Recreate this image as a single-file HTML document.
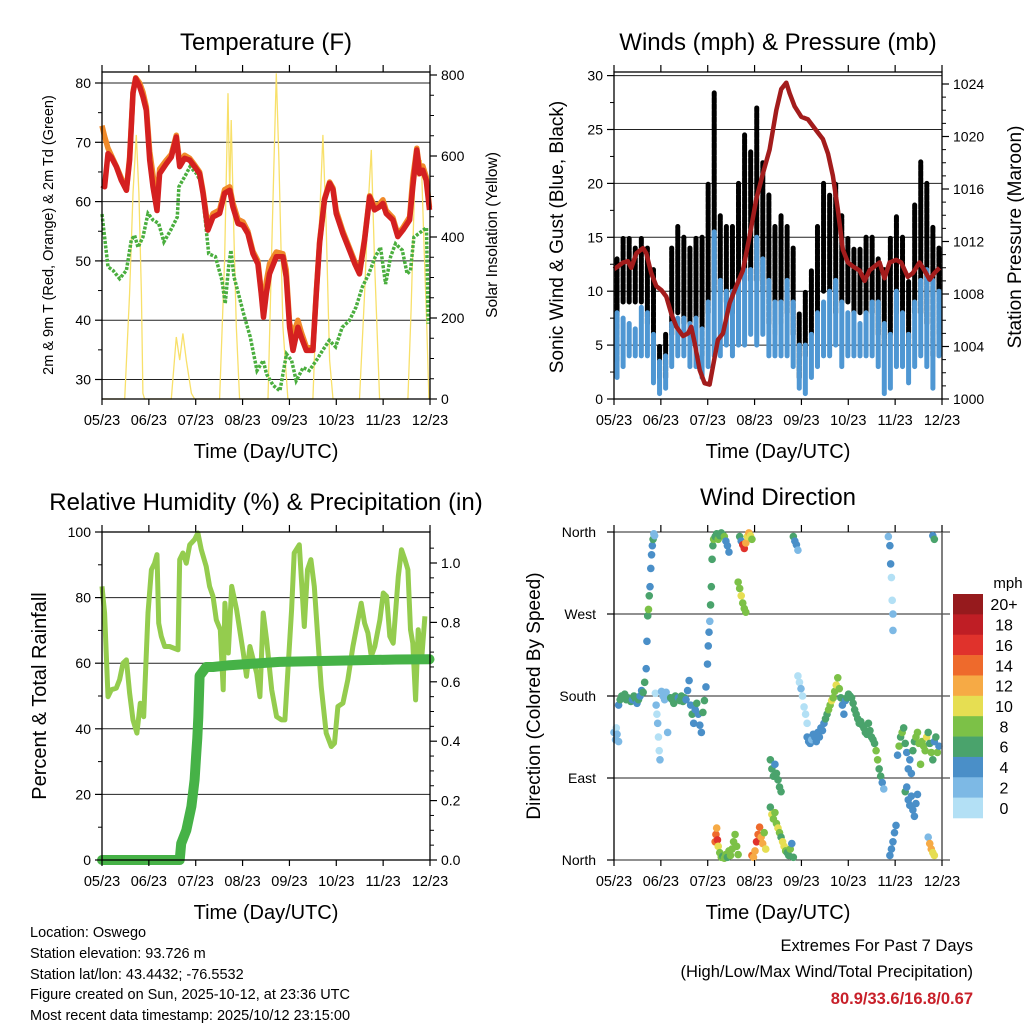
<!DOCTYPE html>
<html><head><meta charset="utf-8"><style>
html,body{margin:0;padding:0;background:#fff;}
svg{display:block;font-family:"Liberation Sans",sans-serif;}
</style></head><body>
<svg id="chart" width="1024" height="1024" viewBox="0 0 1024 1024" xmlns="http://www.w3.org/2000/svg">
<rect width="1024" height="1024" fill="#fff"/>
<g id="layer"></g>
<g font-size="14.5" fill="#000">
<text x="30" y="937">Location: Oswego</text>
<text x="30" y="958">Station elevation: 93.726 m</text>
<text x="30" y="979">Station lat/lon: 43.4432; -76.5532</text>
<text x="30" y="999">Figure created on Sun, 2025-10-12, at 23:36 UTC</text>
<text x="30" y="1020">Most recent data timestamp: 2025/10/12 23:15:00</text>
</g>
<g text-anchor="end" font-size="16.5">
<text x="973" y="951">Extremes For Past 7 Days</text>
<text x="973" y="977">(High/Low/Max Wind/Total Precipitation)</text>
<text x="973" y="1004" fill="#c8202a" font-weight="bold">80.9/33.6/16.8/0.67</text>
</g>
</svg>
<script>
// ---------- data ----------
const monthLabels=["05/23","06/23","07/23","08/23","09/23","10/23","11/23","12/23"];
const tDays=[0,1.7,3.9,6.1,9.3,12.6,15.9,18,20.2,22,24.6,26.7,28.9,31.1,33.3,35.9,37.6,42,45.2,48.5,50.7,53.9,57.2,60.4,63.7,65.9,69.1,72.4,76.7,80,83.3,85.4,88.7,92,95.2,98.5,101.7,103.9,105.4,107.2,109.3,113.7,118,120.2,122.4,124.6,127.8,130,133.3,137.6,139.8,142,145.2,148.5,150.7,152.8,157.2,161.5,164.8,168,171.3,174.6,177.8,181.1,183.3,185.4,189.8,193,196.3,200.7,202.8,205.4,207.2,209.3,211.5,213.7];
const temp2m=[62.8,62.5,68.1,67.5,65.9,63.6,61.9,67,78.3,80.8,79.4,77.7,75.4,67,62.5,58.5,64.7,66.4,67.5,70.9,65.9,67.3,67,65.9,64.7,61.4,55.2,57.4,58,61.4,61.9,59.1,56.3,56,54.6,51.2,49.5,44.5,40.5,44.5,47.8,50.7,50.7,47.3,38.8,34.9,38.8,37.1,34.9,34.9,44.5,53,60.3,63.1,62,58,54.6,51.8,49.6,47.8,53.5,60.8,58.6,59.1,59.7,58,56.9,54.1,55.2,56.9,62.5,68.7,64.7,65.3,63.6,58.6];
const temp9m=[72.8,71,69,67.8,66,64,62,67.5,78.5,80.9,80,78.5,76,68.5,64.5,60,65.5,67,68,71.2,66.5,67.8,67.3,66.2,65,61.8,55.8,58,58.6,62,62.5,59.8,57,56.6,55,51.6,50,45,41,46.5,49.5,51.5,51.2,48.5,39.5,37.5,40,38,35.5,35.2,44.8,53.3,60.5,63.3,62.3,58.5,55,52.2,50,48.2,53.8,61,59.2,59.6,60.3,58.5,57.3,54.5,55.6,57.4,64,69,65.5,66,64.2,59];
const tdDays=[0,1.7,3.9,7.2,11.5,15.9,19.1,21.3,23.5,26.7,30,33.3,37,40.4,44.8,49.1,50.2,54.6,57.4,61.7,65,69.6,74,78.3,80.4,82.6,84.1,86.1,89,92.4,96.7,101.1,105.2,107.4,111.7,116.1,120.4,123.7,126.7,131.3,135.2,139.8,143.9,148.3,152.4,156.7,161.3,165.7,169.8,174.1,178.3,181.7,185,188.3,191.5,195.9,199.1,201.3,203.5,211.7,212.8];
const tempTd=[57.9,54,49,48.4,47,48.4,53.5,54.3,52.3,54,58,56.9,56.3,53.2,55.2,57.4,62.5,64.5,65.9,64.7,63,51.2,50.7,46.7,42.8,49,51.8,47.3,44.5,41.1,37.2,31.5,33.2,30.9,29,28.1,34.3,33.2,29.8,32,31.5,33.2,34.9,36.6,35.5,38.8,39.9,42.2,45.6,47.8,50.7,52.3,46.1,50.7,52.9,51.8,47.8,48.4,54,55.6,39.4];
const solDays=[0,14.8,18,20.2,22.4,24.1,25.7,26.7,27.8,45.2,48.5,50.7,52.8,55,58.3,60.4,76.7,80,82.2,83.3,84.3,85.9,87.6,89.8,108.3,111.1,113.7,115.4,118,121.3,137.6,140.9,144.1,146.3,148.5,150.7,168,171.3,173.5,175.7,177.8,181.1,199.6,201.7,204.6,206.1,208.3,210.4,211.9,213.3];
const solar=[0,0,261,508,652,508,261,14,0,0,153,96,162,96,14,0,0,343,755,508,689,426,179,0,0,426,804,590,179,0,0,343,652,426,96,0,0,261,467,615,343,0,0,220,615,549,590,343,179,0];
const presDays=[0,2.6,5.9,9.1,11.3,14.6,18.9,21.1,24.3,27.6,30.9,34.1,37.4,40.7,45,48.3,50.4,52.6,55.9,59.1,62.4,64.6,67.8,71.1,75.4,79.8,84.1,88.5,92.8,97.2,101.5,105.9,109.1,112.4,114.6,117.8,122.2,126.5,129.8,133,136.3,139.6,142.8,146.1,149.3,152.6,155.9,160.2,163.5,166.7,170,173.3,176.5,179.8,184.1,187.4,191.7,195,199.3,202.6,205.9,209.1,212.4];
const pressure=[1009.9,1010.1,1010.4,1010.5,1010,1011.1,1011.5,1011.1,1009.6,1008.6,1008.3,1007.8,1006.5,1005.5,1004.8,1005,1005.5,1004.3,1002.2,1001.2,1001.1,1002.5,1004.5,1005,1007.3,1008.6,1009.8,1012.4,1015.2,1017.2,1019,1022,1023.6,1024.1,1023.3,1022.3,1021.5,1021.3,1020.8,1020.3,1019.8,1018.7,1017,1014.4,1011.4,1010.4,1010.1,1009.8,1009,1009.8,1010.1,1010.4,1009.2,1010.4,1010.6,1010.4,1009.3,1009.6,1010.4,1009.8,1009.1,1009.6,1010];
const windLow=[2,3,4,4,4,4,1.5,0.5,1,3,4,4,3,3,2,3,4,4,5,4,5,5,6,5,6,4,4,4,4,3,1,0.5,2,3,4,4,5,3,4,4,4,4,4,3,0.5,1,3,3,1.5,3,4,3,1,4];
const windHigh=[8,7.5,7,6.5,8.5,8,6,3.5,4,7,7.5,7.5,7,7.5,6.5,9,15.5,11,10,10,11,12,12,15,13,11,9,9,11,9,5,5,6,8,9,10,11,9,8,8,7,8,9,9,7,6,10,8,6,9,11,12,11,10];
const gustLow=[3.5,9,9,9,9,7,4,2,2,6,8,7,7,6,4,8,10,10,9,8,10,11,11,11,10,7,6,7,8,6,2,4,6,8,10,10,8,9,9,8,8,8,8,6,5,6,8,8,5,8,8,7,4,6];
const gustHigh=[13,15,15,14,15,14,12,5,6,14,16,15,14,15,15,20,28.4,17,16,16,20,24.5,23,27,22,19,16,17,16,14,8,10,12,16,20,19,20,17,15,14,14,15,15,13,12,15,17,15,11,18,22,20,16,14];
const rhDays=[0,1.7,3.9,6.1,9.3,11.5,13.7,15.9,18,20.2,22.8,25,27.2,30,32.2,34.3,35.9,37,38.7,40.9,44.1,49.6,50.7,52.8,55,57.2,60.4,62.6,64.8,68,70.2,72.4,74.6,77.2,79.1,80.2,82.4,84.6,87.8,92.2,94.3,96.5,98.7,100.9,103,105.2,107.4,110.7,113.9,117.2,119.3,123.7,125.4,128.7,132,134.1,136.3,138.5,140.7,143,146.3,149.6,151.7,153.9,157.2,160.4,163.7,167,169.1,171.3,173.5,175.7,178,181.3,183.5,185.7,187.8,190,193.3,195.4,197.6,199.6,201.3,202.8,204.6,206.3,208.5,210.7];
const rh=[83.4,75.3,49.8,51.9,52.4,55,60,61,50.9,42.7,38.7,47.8,43.7,75.3,88.5,90.5,93.1,72.2,68.2,65.1,65.1,64.1,91.6,93.6,90.5,96.1,97.7,99.7,94.6,89.5,83.4,80.4,73.2,70.2,51.9,78.3,63.1,83.4,76.3,63.1,56,65.1,61,56.9,49.8,75.3,67.1,51.9,43.7,42.7,42.7,76.3,93.6,96.1,71.2,88.5,91.6,83.4,68.2,52.9,38.7,34.6,35.6,46.8,47.8,54.9,65.1,73.2,78.3,72.2,69.2,62.1,65.1,73.2,81.4,80.4,68.2,66.1,86.4,94.6,91.6,88.5,70.2,66.1,48.8,70.2,61,74.3,40.7];
const prDays=[0,50.7,51.7,55,58.3,60.4,61.5,62.2,62.8,63.7,68,72.4,83.3,115.9,192,213.7];
const precip=[0,0,0.056,0.1,0.18,0.27,0.36,0.41,0.48,0.62,0.65,0.65,0.656,0.667,0.675,0.676];
const dirDays=[0,1,1.5,2,3,3,4,5,6,7,8,9,11,12,13,14,15,16,17,18,19,20,21,21.5,22,22.5,23,23.5,24,24.5,25,25.5,26,26.5,27,27.5,28,28.5,29,29.5,30,31,32,33,34,35,36,37,38,39,40,41,42,43,44,45,46,47,48,49,50,51,52,53,54,55,56,57,58,59,60,61,61.5,62,62.5,63,63.5,64,64.5,65,66,67,68,69,70,71,72,73,74,75,66,66.5,67,67.5,68,69,70,71,72,73,74,75,76,77,78,79,80,81,82,83,84,85,86,87,88,89,90,81,82,83,84,85,86,90,91,92,93,94,95,96,97,98,99,102,103,104,105,106,107,108,109,102,103,104,105,106,107,108,109,110,111,112,113,114,115,116,117,117,118,119,120,120,121,122,123,124,125,126,126,127,128,129,130,131,132,133,134,135,136,137,138,139,140,141,142,143,144,145,146,147,148,149,150,151,152,153,154,155,156,157,158,159,160,161,162,163,164,165,166,167,168,169,170,171,172,173,174,175,176,179,180,180.5,181,181.5,182,182,180,181,182,183,184,185,186,187,188,189,190,191,192,193,194,195,196,197,198,199,200,190,191,192,193,194,195,196,197,198,205,206,207,208,209,201,202,203,204,205,206,207,208,209,210,211,212,208,209];
const dirDeg=[140,132,145,138,130,170,176,180,178,182,176,178,174,176,180,177,172,176,180,186,184,195,210,240,268,275,290,300,320,335,345,352,358,356,183,170,160,150,135,120,110,185,180,176,184,140,178,178,176,172,180,176,178,175,180,174,178,176,186,197,170,160,150,165,172,160,148,140,162,175,190,215,235,250,262,280,300,330,345,352,355,358,352,356,359,357,355,350,345,338,20,28,35,22,15,8,3,4,2,6,3,10,5,12,20,28,15,6,355,350,346,342,348,355,359,356,352,305,298,290,282,276,272,5,3,10,20,28,36,25,18,30,12,110,100,92,105,95,88,80,75,58,50,45,52,40,35,30,25,20,15,10,8,5,12,18,3,355,350,346,340,202,195,188,180,168,160,150,135,130,128,132,138,135,130,140,135,145,142,150,155,160,165,170,175,178,185,192,200,188,178,170,160,175,178,182,180,178,172,165,160,155,150,152,148,145,140,138,150,142,135,132,128,120,110,100,92,85,78,355,345,325,310,285,270,252,5,12,20,30,38,115,125,135,140,145,128,118,100,110,95,120,130,135,140,128,105,75,80,66,60,70,55,48,62,72,25,18,12,8,5,130,125,120,135,140,128,118,110,130,135,118,125,356,352];
const dirSpd=[2,2,1,2,2,5,6,7,6,7,6,7,6,5,6,6,5,6,4,5,6,6,4,4,7,8,6,4,4,4,4,6,3,2,1,2,1,2,1,1,2,2,3,2,3,2,2,6,6,6,6,6,5,6,7,6,6,4,4,4,5,6,4,4,6,4,4,4,6,7,4,4,4,4,3,6,7,6,6,8,6,6,8,7,6,6,8,4,4,4,14,15,12,16,11,9,8,7,9,8,7,8,9,8,8,8,9,8,6,5,17,16,12,10,12,11,9,8,8,10,9,8,9,14,12,12,16,15,14,13,12,9,11,6,6,6,5,6,7,6,6,7,10,8,8,9,10,8,6,10,10,9,7,6,8,5,6,6,5,4,3,1,1,2,1,1,1,1,4,4,4,3,4,4,4,5,4,4,5,5,6,7,8,8,10,9,8,10,9,8,6,4,4,4,6,6,7,6,6,6,6,6,6,6,6,6,6,6,6,6,6,6,6,8,8,6,6,4,3,2,4,4,1,1,2,2,4,4,4,4,4,4,8,7,8,6,6,4,4,5,4,7,6,8,9,9,8,6,4,4,4,4,4,4,4,4,3,12,12,11,10,8,8,9,10,6,7,8,6,4,6,8,4,4,6,6];
const speedColors=["#b3e0f5","#7db9e5","#4a8fc8","#4aa36c","#7cc147","#e6de52","#f6aa45","#ee6a2c","#e0322c","#bf1e25","#961a1d"];
const speedLabels=["0","2","4","6","8","10","12","14","16","18","20+"];

// ---------- helpers ----------
const NS="http://www.w3.org/2000/svg";
const layer=document.getElementById("layer");
function mk(tag,attrs,parent){const e=document.createElementNS(NS,tag);for(const k in attrs)e.setAttribute(k,attrs[k]);(parent||layer).appendChild(e);return e;}
function txt(x,y,s,size,anchor,parent,rot){const e=mk("text",{x:x,y:y,"font-size":size,"text-anchor":anchor||"middle"},parent);if(rot)e.setAttribute("transform","rotate(-90 "+x+" "+y+")");e.textContent=s;return e;}
const DAYSPAN=214;
function pathFrom(xs,ys,fx,fy){let d="";for(let i=0;i<xs.length;i++)d+=(i?"L":"M")+fx(xs[i]).toFixed(1)+","+fy(ys[i]).toFixed(1);return d;}

function frame(L,T,R,B,name){
  const g=mk("g",{});
  
  
  return g;
}
function xAxis(g,L,R,B,T){
  const step=(R-L)/7;
  for(let i=0;i<8;i++){
    const x=L+i*step;
    const tk=mk("line",{x1:x,y1:B,x2:x,y2:B+6,stroke:"#000","stroke-width":1.2},g);
    
    
    mk("line",{x1:x,y1:T,x2:x,y2:T-7,stroke:"#000","stroke-width":1.2},g);
    const t=txt(x,B+26,monthLabels[i],14.5,"middle",g);
    
    
  }
  const xt=txt((L+R)/2,B+59,"Time (Day/UTC)",20,"middle",g);
  
  
}
function yTicks(g,x,vals,fy,labels,side,minor){
  const dir=side==="left"?-1:1;
  for(let i=0;i<vals.length;i++){
    const y=fy(vals[i]);
    mk("line",{x1:x,y1:y,x2:x+dir*7,y2:y,stroke:"#000","stroke-width":1.2},g);
    const t=txt(x+dir*11,y+5,labels[i],14,side==="left"?"end":"start",g);
    
    
  }
  (minor||[]).forEach(v=>{const y=fy(v);mk("line",{x1:x,y1:y,x2:x+dir*4,y2:y,stroke:"#000","stroke-width":1},g);});
}

// ---------- Panel 1: Temperature ----------
(function(){
  const L=102,R=430,T=72,B=399;
  const fx=d=>L+d*(R-L)/DAYSPAN, fy=t=>83+(80-t)*5.93, fs=s=>399-s*0.405;
  const g=frame(L,T,R,B,"temperature-panel");
  [30,40,50,60,70,80].forEach(v=>mk("line",{x1:L,y1:fy(v),x2:R,y2:fy(v),stroke:"#222","stroke-width":1},g));
  const sol=mk("path",{d:pathFrom(solDays,solar,fx,fs),fill:"none",stroke:"#f8e06a","stroke-width":1.3},g);
  
  
  const td=mk("path",{d:pathFrom(tdDays,tempTd,fx,fy),fill:"none",stroke:"#4aae3e","stroke-width":3.5,"stroke-dasharray":"3 1.5"},g);
  
  
  const o=mk("path",{d:pathFrom(tDays,temp9m,fx,fy),fill:"none",stroke:"#f08a2a","stroke-width":5.5,"stroke-linejoin":"round"},g);
  
  
  const r=mk("path",{d:pathFrom(tDays,temp2m,fx,fy),fill:"none",stroke:"#d42020","stroke-width":5.5,"stroke-linejoin":"round"},g);
  
  
  mk("rect",{x:L,y:T,width:R-L,height:B-T,fill:"none",stroke:"#000","stroke-width":1.3},g);
  yTicks(g,L,[30,40,50,60,70,80],fy,["30","40","50","60","70","80"],"left",[35,45,55,65,75]);
  yTicks(g,R,[0,200,400,600,800],fs,["0","200","400","600","800"],"right",[50,100,150,250,300,350,450,500,550,650,700,750]);
  xAxis(g,L,R,B,T);
  const ti=txt(266,50,"Temperature (F)",24,"middle",g);
  
  
  const yl=txt(53,235,"2m & 9m T (Red, Orange) & 2m Td (Green)",14.5,"middle",g,true);
  
  
  const yr=txt(497,235,"Solar Insolation (Yellow)",15.5,"middle",g,true);
  
  
})();

// ---------- Panel 2: Winds & Pressure ----------
(function(){
  const L=614,R=942,T=72,B=399;
  const fx=d=>L+d*(R-L)/DAYSPAN, fy=m=>399-m*10.78, fp=p=>399-(p-1000)*13.125;
  const g=frame(L,T,R,B,"winds-pressure-panel");
  [5,10,15,20,25,30].forEach(v=>mk("line",{x1:L,y1:fy(v),x2:R,y2:fy(v),stroke:"#222","stroke-width":1},g));
  const bw=(R-L)/gustLow.length;
  const gg=mk("g",{},g);
  
  
  for(let i=0;i<gustLow.length;i++){
    const x=L+(i+0.5)*bw;
    const b=mk("line",{x1:x,y1:fy(gustLow[i]),x2:x,y2:fy(gustHigh[i]),stroke:"#000","stroke-width":5,"stroke-linecap":"round","stroke-dasharray":"5 1.5"},gg);
    
    
  }
  const wg=mk("g",{},g);
  
  
  for(let i=0;i<windLow.length;i++){
    const x=L+(i+0.5)*bw;
    const b=mk("line",{x1:x,y1:fy(windLow[i]),x2:x,y2:fy(windHigh[i]),stroke:"#4f97d3","stroke-width":5,"stroke-linecap":"round"},wg);
    
    
  }
  const p=mk("path",{d:pathFrom(presDays,pressure,fx,fp),fill:"none",stroke:"#a31c1c","stroke-width":4.5,"stroke-linejoin":"round"},g);
  
  
  mk("rect",{x:L,y:T,width:R-L,height:B-T,fill:"none",stroke:"#000","stroke-width":1.3},g);
  yTicks(g,L,[0,5,10,15,20,25,30],fy,["0","5","10","15","20","25","30"],"left",[2.5,7.5,12.5,17.5,22.5,27.5]);
  yTicks(g,R,[1000,1004,1008,1012,1016,1020,1024],fp,["1000","1004","1008","1012","1016","1020","1024"],"right",[1001,1002,1003,1005,1006,1007,1009,1010,1011,1013,1014,1015,1017,1018,1019,1021,1022,1023]);
  xAxis(g,L,R,B,T);
  const ti=txt(778,50,"Winds (mph) & Pressure (mb)",24,"middle",g);
  
  
  const yl=txt(563,237,"Sonic Wind & Gust (Blue, Black)",19,"middle",g,true);
  
  
  const yr=txt(1021,237,"Station Pressure (Maroon)",19,"middle",g,true);
  
  
})();

// ---------- Panel 3: RH & Precip ----------
(function(){
  const L=102,R=430,T=532,B=860;
  const fx=d=>L+d*(R-L)/DAYSPAN, fy=r=>860-r*3.28, fp=i=>860-i*297;
  const g=frame(L,T,R,B,"humidity-precip-panel");
  [20,40,60,80].forEach(v=>mk("line",{x1:L,y1:fy(v),x2:R,y2:fy(v),stroke:"#222","stroke-width":1},g));
  const h=mk("path",{d:pathFrom(rhDays,rh,fx,fy),fill:"none",stroke:"#94cc4e","stroke-width":5,"stroke-linejoin":"round"},g);
  
  
  const pr=mk("path",{d:pathFrom(prDays,precip,fx,fp),fill:"none",stroke:"#46b247","stroke-width":10,"stroke-linecap":"round","stroke-linejoin":"round"},g);
  
  
  mk("rect",{x:L,y:T,width:R-L,height:B-T,fill:"none",stroke:"#000","stroke-width":1.3},g);
  yTicks(g,L,[0,20,40,60,80,100],fy,["0","20","40","60","80","100"],"left",[10,30,50,70,90]);
  yTicks(g,R,[0,0.2,0.4,0.6,0.8,1.0],fp,["0.0","0.2","0.4","0.6","0.8","1.0"],"right",[0.05,0.1,0.15,0.25,0.3,0.35,0.45,0.5,0.55,0.65,0.7,0.75,0.85,0.9,0.95,1.05]);
  xAxis(g,L,R,B,T);
  const ti=txt(266,510,"Relative Humidity (%) & Precipitation (in)",24,"middle",g);
  
  
  const yl=txt(46,696,"Percent & Total Rainfall",20,"middle",g,true);
  
  
})();

// ---------- Panel 4: Wind direction ----------
(function(){
  const L=614,R=942,T=532,B=860;
  const fx=d=>L+d*(R-L)/DAYSPAN, fy=deg=>860-deg*0.9111;
  const g=frame(L,T,R,B,"wind-direction-panel");
  [0,90,180,270,360].forEach(v=>mk("line",{x1:L,y1:fy(v),x2:950,y2:fy(v),stroke:"#222","stroke-width":1},g));
  const pg=mk("g",{},g);
  
  
  for(let i=0;i<dirDays.length;i++){
    const c=speedColors[Math.min(10,Math.floor(dirSpd[i]/2))];
    const pt=mk("circle",{cx:fx(dirDays[i]),cy:fy(dirDeg[i]),r:3.8,fill:c},pg);
    
    
  }
  mk("line",{x1:L,y1:T,x2:L,y2:B,stroke:"#000","stroke-width":1.3},g);
  mk("line",{x1:R,y1:T,x2:R,y2:B,stroke:"#555","stroke-width":1.5},g);
  const labs=["North","East","South","West","North"];
  [0,90,180,270,360].forEach((v,i)=>{
    const t=txt(596,fy(v)+5,labs[i],14,"end",g);
    
    
    mk("line",{x1:L,y1:fy(v),x2:L-7,y2:fy(v),stroke:"#000","stroke-width":1.2},g);
  });
  xAxis(g,L,R,B,T);
  const ti=txt(778,505,"Wind Direction",24,"middle",g);
  
  
  const yl=txt(540,696,"Direction (Colored By Speed)",19,"middle",g,true);
  
  
  const cb=mk("g",{},g);
  
  
  const cbTop=594,cbH=224/11;
  for(let i=0;i<11;i++){
    const idx=10-i;
    const rc=mk("rect",{x:953,y:cbTop+i*cbH,width:30,height:cbH+0.3,fill:speedColors[idx]},cb);
    
    
    const t=txt(1004,cbTop+i*cbH+cbH/2+6,speedLabels[idx],16,"middle",cb);
    
    
  }
  const u=txt(1008,588,"mph",15,"middle",cb);
  
  
})();
</script>
</body></html>
